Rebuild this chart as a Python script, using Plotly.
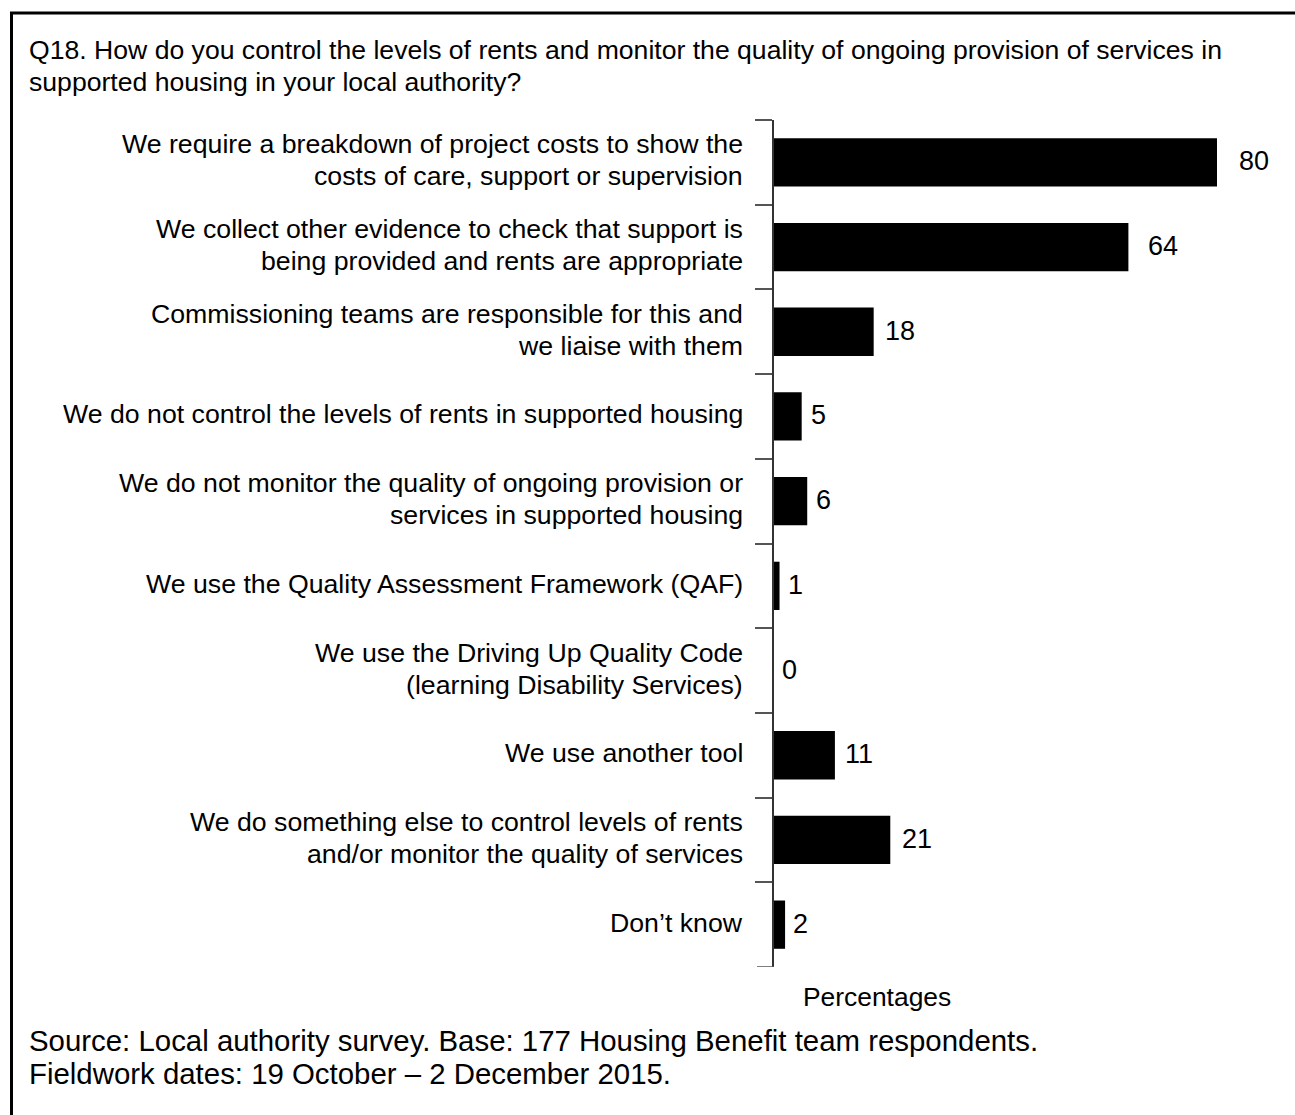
import plotly.graph_objects as go

# Survey responses (percentages), top to bottom
labels = [
    "We require a breakdown of project costs to show the\ncosts of care, support or supervision",
    "We collect other evidence to check that support is\nbeing provided and rents are appropriate",
    "Commissioning teams are responsible for this and\nwe liaise with them",
    "We do not control the levels of rents in supported housing",
    "We do not monitor the quality of ongoing provision or\nservices in supported housing",
    "We use the Quality Assessment Framework (QAF)",
    "We use the Driving Up Quality Code\n(learning Disability Services)",
    "We use another tool",
    "We do something else to control levels of rents\nand/or monitor the quality of services",
    "Don\u2019t know",
]
values = [80, 64, 18, 5, 6, 1, 0, 11, 21, 2]

title_lines = [
    "Q18. How do you control the levels of rents and monitor the quality of ongoing provision of services in",
    "supported housing in your local authority?",
]
source_lines = [
    "Source: Local authority survey. Base: 177 Housing Benefit team respondents.",
    "Fieldwork dates: 19 October \u2013 2 December 2015.",
]
axis_title = "Percentages"

FONT = "Liberation Sans, Arial, Helvetica, sans-serif"
W, H = 1295, 1115
ML, MR, MT, MB = 774, 10, 120, 148
PW, PH = W - ML - MR, H - MT - MB
PX_PER_UNIT = 5.5375
TICK_LEN = 17


def xp(px):
    return (px - ML) / PW


def yp(py):
    return (H - MB - py) / PH


fig = go.Figure(
    go.Bar(
        x=values,
        y=labels,
        orientation="h",
        marker=dict(color="black", line=dict(width=0)),
        hoverinfo="skip",
    )
)

annotations = []

# category labels, one annotation per line for tight line spacing
LINE_GAP = 32
for lab in labels:
    parts = lab.split("\n")
    n = len(parts)
    for k, part in enumerate(parts):
        annotations.append(dict(
            xref="paper", x=0, xanchor="right", xshift=-29,
            yref="y", y=lab, yanchor="middle",
            yshift=((n - 1) / 2 - k) * LINE_GAP + 2,
            text=part, showarrow=False,
            font=dict(family=FONT, size=26.7, color="black"),
        ))

# value labels beside each bar
for lab, v in zip(labels, values):
    annotations.append(dict(
        xref="x", x=v, xanchor="left", xshift=6 + 0.175 * v,
        yref="y", y=lab, yanchor="middle", yshift=1,
        text=str(v), showarrow=False,
        font=dict(family=FONT, size=27, color="black"),
    ))

# question text
for py, line in zip([49.5, 81.5], title_lines):
    annotations.append(dict(
        xref="paper", x=xp(27), xanchor="left",
        yref="paper", y=yp(py), yanchor="middle",
        text=line, showarrow=False,
        font=dict(family=FONT, size=26.6, color="black"),
    ))

# source note
for py, line in zip([1040.5, 1073.5], source_lines):
    annotations.append(dict(
        xref="paper", x=xp(27), xanchor="left",
        yref="paper", y=yp(py), yanchor="middle",
        text=line, showarrow=False,
        font=dict(family=FONT, size=29.4, color="black"),
    ))

# axis caption
annotations.append(dict(
    xref="paper", x=xp(877), xanchor="center",
    yref="paper", y=yp(997.5), yanchor="middle",
    text=axis_title, showarrow=False,
    font=dict(family=FONT, size=26.4, color="black"),
))

n_cat = len(labels)

shapes = [
    # frame along the top and left edges
    dict(
        type="path", xref="paper", yref="paper",
        path=f"M {xp(11.5)},{yp(H + 5)} L {xp(11.5)},{yp(13)} L {xp(W + 5)},{yp(13)}",
        line=dict(color="black", width=3),
    ),
    # closing tick below the last category
    dict(
        type="line", xref="paper", yref="y",
        x0=xp(ML - TICK_LEN), x1=0, y0=n_cat - 0.5, y1=n_cat - 0.5,
        line=dict(color="#555555", width=1.5),
    ),
]

fig.update_layout(
    width=W, height=H,
    margin=dict(l=ML, r=MR, t=MT, b=MB, pad=0),
    paper_bgcolor="white", plot_bgcolor="white",
    showlegend=False,
    bargap=0.43,
    font=dict(family=FONT, color="black"),
    annotations=annotations,
    shapes=shapes,
    xaxis=dict(
        range=[0, PW / PX_PER_UNIT],
        showticklabels=False, showgrid=False, zeroline=False,
        showline=False, ticks="", fixedrange=True,
    ),
    yaxis=dict(
        type="category", categoryorder="array", categoryarray=labels,
        range=[n_cat - 0.5, -0.5],
        showticklabels=False, showgrid=False, zeroline=False,
        showline=True, linecolor="#333333", linewidth=1.5,
        ticks="outside", tickson="boundaries", ticklen=TICK_LEN,
        tickcolor="#555555", tickwidth=1.5, fixedrange=True,
    ),
)

fig.write_html("out.html", config=dict(displayModeBar=False))
